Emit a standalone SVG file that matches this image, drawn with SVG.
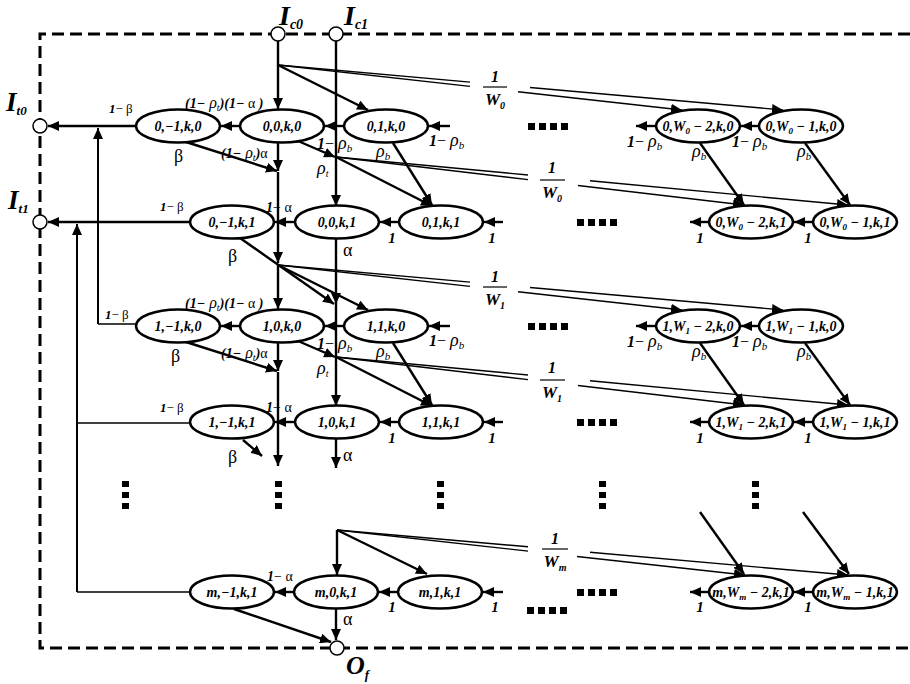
<svg xmlns="http://www.w3.org/2000/svg" width="910" height="684" viewBox="0 0 910 684">
<defs>
<marker id="ah" markerWidth="11" markerHeight="10" refX="11" refY="5" orient="auto" markerUnits="userSpaceOnUse"><path d="M0,0 L11,5 L0,10 Z" fill="#000"/></marker>
<style>
.c{stroke:#000;stroke-width:2.4;fill:none}
.a{marker-end:url(#ah)}
.t{stroke:#000;stroke-width:1.4;fill:none}
.m{stroke:#000;stroke-width:2;fill:none}
.n ellipse{fill:#fff;stroke:#000;stroke-width:2.6}
.n text{font-family:"Liberation Serif",serif;font-style:italic;font-weight:bold;font-size:14px;text-anchor:middle}
.el{font-family:"Liberation Serif",serif;font-size:15px}
.bi{font-style:italic;font-weight:bold}
.it{font-style:italic}
.r{font-style:italic;font-size:18px}
.g{font-size:18px}
.fr{font-family:"Liberation Serif",serif;font-style:italic;font-weight:bold;text-anchor:middle}
.port circle{fill:#fff;stroke:#000;stroke-width:1.5}
.port text{font-family:"Liberation Serif",serif;font-style:italic;font-weight:bold}
.dot{fill:#000}
.border{stroke:#000;stroke-width:3;stroke-dasharray:12,6;fill:none}
</style>
</defs>
<rect width="910" height="684" fill="#fff"/>
<g id="border">
<path class="border" d="M910,34 H40 V648 H910"/>
</g>
<g id="connectors">
<path class="c a" d="M278,41 V109"/>
<path class="c a" d="M278,65 L368,110"/>
<path class="t" d="M278,65 L470,82.1"/>
<path class="t a" d="M530,87.5 L783,110"/>
<path class="t" d="M278,65 L470,86.4"/>
<path class="t a" d="M518,91.7 L682,110"/>
<path class="c a" d="M336,41 V206"/>
<path class="c a" d="M241,126 H221"/>
<path class="c a" d="M344,126 H325"/>
<path class="c a" d="M450,126 H429"/>
<path class="c a" d="M759,126 H741"/>
<path class="c a" d="M656,126 H636"/>
<path class="c a" d="M136,126 H48"/>
<path class="c a" d="M186,142 L277,171"/>
<path class="c a" d="M278,143 V171"/>
<path class="c a" d="M298,141 L335,157"/>
<path class="c a" d="M393,143 L432,205"/>
<path class="c a" d="M700,143 L744,205"/>
<path class="c a" d="M805,143 L850,205"/>
<path class="c a" d="M336,157 L432,206"/>
<path class="t" d="M336,157 L528,175"/>
<path class="t a" d="M590,180.8 L848,205"/>
<path class="t" d="M336,157 L528,179.6"/>
<path class="t a" d="M578,185.5 L744,205"/>
<path class="c a" d="M295,222 H275"/>
<path class="c a" d="M399,222 H380"/>
<path class="c a" d="M503,222 H484"/>
<path class="c a" d="M813,222 H794"/>
<path class="c a" d="M709,222 H690"/>
<path class="c a" d="M190,222 H48"/>
<path class="c a" d="M240,238 L334,304"/>
<path class="c a" d="M278,172 V263"/>
<path class="c a" d="M336,239 V304"/>
<path class="c" d="M336,304 V357"/>
<path class="m a" d="M98,324 V128"/>
<path class="t" d="M136,324 H98"/>
<path class="m a" d="M77,592 V224"/>
<path class="t" d="M190,423 H77"/>
<path class="t" d="M190,592 H77"/>
<path class="c a" d="M278,265 V309"/>
<path class="c a" d="M278,265 L368,310"/>
<path class="t" d="M278,265 L470,282.1"/>
<path class="t a" d="M530,287.5 L783,310"/>
<path class="t" d="M278,265 L470,286.4"/>
<path class="t a" d="M518,291.7 L682,310"/>
<path class="c a" d="M241,326 H221"/>
<path class="c a" d="M344,326 H325"/>
<path class="c a" d="M450,326 H429"/>
<path class="c a" d="M759,326 H741"/>
<path class="c a" d="M656,326 H636"/>
<path class="c a" d="M186,342 L277,371"/>
<path class="c a" d="M278,343 V371"/>
<path class="c a" d="M298,341 L335,357"/>
<path class="c a" d="M393,343 L432,405"/>
<path class="c a" d="M700,343 L744,405"/>
<path class="c a" d="M805,343 L850,405"/>
<path class="c a" d="M336,357 V406"/>
<path class="c a" d="M336,357 L432,406"/>
<path class="t" d="M336,357 L528,375"/>
<path class="t a" d="M590,380.8 L848,405"/>
<path class="t" d="M336,357 L528,379.6"/>
<path class="t a" d="M578,385.5 L744,405"/>
<path class="c a" d="M295,422 H275"/>
<path class="c a" d="M399,422 H380"/>
<path class="c a" d="M503,422 H484"/>
<path class="c a" d="M813,422 H794"/>
<path class="c a" d="M709,422 H690"/>
<path class="c a" d="M243,440 L262,456"/>
<path class="c a" d="M336,439 V468"/>
<path class="c a" d="M278,372 V466"/>
<path class="c a" d="M337,530 V575"/>
<path class="c a" d="M337,530 L427,574"/>
<path class="t" d="M337,530 L528,546.8"/>
<path class="t a" d="M590,552.3 L848,575"/>
<path class="t" d="M337,530 L528,551.1"/>
<path class="t a" d="M577,556.5 L745,575"/>
<path class="c a" d="M700,512 L744,574"/>
<path class="c a" d="M803,512 L849,574"/>
<path class="c a" d="M294,592 H275"/>
<path class="c a" d="M398,592 H379"/>
<path class="c a" d="M503,592 H483"/>
<path class="c a" d="M813,592 H794"/>
<path class="c a" d="M709,592 H690"/>
<path class="c a" d="M336,609 V640"/>
<path class="c a" d="M234,609 L331,642"/>
</g>
<g id="edge-labels" class="el">
<text x="185" y="108" font-size="14"><tspan class="bi">(1−</tspan><tspan class="it" font-size="16"> ρ</tspan><tspan class="it" font-size="10" dy="3">t</tspan><tspan class="bi" dy="-3">)(1−</tspan><tspan> α</tspan><tspan class="bi"> )</tspan></text>
<text x="109" y="113" font-size="13"><tspan class="bi">1</tspan>− β</text>
<text x="174" y="162" class="g">β</text>
<text x="221" y="158" font-size="14"><tspan class="bi">(1−</tspan><tspan class="it" font-size="16"> ρ</tspan><tspan class="it" font-size="10" dy="3">t</tspan><tspan class="bi" dy="-3">)</tspan>α</text>
<text x="317" y="149" font-size="16"><tspan class="bi">1</tspan>− <tspan class="r">ρ</tspan><tspan class="it" font-size="11" dy="3">b</tspan></text>
<text x="376" y="157"><tspan class="r">ρ</tspan><tspan class="it" font-size="11" dy="3">b</tspan></text>
<text x="317" y="174"><tspan class="r">ρ</tspan><tspan class="it" font-size="10" dy="3">t</tspan></text>
<text x="429" y="146" font-size="16"><tspan class="bi">1</tspan>− <tspan class="r">ρ</tspan><tspan class="it" font-size="11" dy="3">b</tspan></text>
<text x="627" y="147" font-size="16"><tspan class="bi">1</tspan>− <tspan class="r">ρ</tspan><tspan class="it" font-size="11" dy="3">b</tspan></text>
<text x="692" y="157"><tspan class="r">ρ</tspan><tspan class="it" font-size="11" dy="3">b</tspan></text>
<text x="732" y="147" font-size="16"><tspan class="bi">1</tspan>− <tspan class="r">ρ</tspan><tspan class="it" font-size="11" dy="3">b</tspan></text>
<text x="797" y="157"><tspan class="r">ρ</tspan><tspan class="it" font-size="11" dy="3">b</tspan></text>
<text x="160" y="211" font-size="13"><tspan class="bi">1</tspan>− β</text>
<text x="266" y="212" font-size="14"><tspan class="bi">1</tspan>− α</text>
<text x="228" y="262" class="g">β</text>
<text x="343" y="256" class="g">α</text>
<text x="392" y="243" class="bi" text-anchor="middle">1</text>
<text x="492" y="243" class="bi" text-anchor="middle">1</text>
<text x="700" y="243" class="bi" text-anchor="middle">1</text>
<text x="808" y="243" class="bi" text-anchor="middle">1</text>
<text x="185" y="308" font-size="14"><tspan class="bi">(1−</tspan><tspan class="it" font-size="16"> ρ</tspan><tspan class="it" font-size="10" dy="3">t</tspan><tspan class="bi" dy="-3">)(1−</tspan><tspan> α</tspan><tspan class="bi"> )</tspan></text>
<text x="105" y="319" font-size="13"><tspan class="bi">1</tspan>− β</text>
<text x="171" y="362" class="g">β</text>
<text x="221" y="358" font-size="14"><tspan class="bi">(1−</tspan><tspan class="it" font-size="16"> ρ</tspan><tspan class="it" font-size="10" dy="3">t</tspan><tspan class="bi" dy="-3">)</tspan>α</text>
<text x="317" y="349" font-size="16"><tspan class="bi">1</tspan>− <tspan class="r">ρ</tspan><tspan class="it" font-size="11" dy="3">b</tspan></text>
<text x="376" y="357"><tspan class="r">ρ</tspan><tspan class="it" font-size="11" dy="3">b</tspan></text>
<text x="317" y="374"><tspan class="r">ρ</tspan><tspan class="it" font-size="10" dy="3">t</tspan></text>
<text x="429" y="346" font-size="16"><tspan class="bi">1</tspan>− <tspan class="r">ρ</tspan><tspan class="it" font-size="11" dy="3">b</tspan></text>
<text x="627" y="347" font-size="16"><tspan class="bi">1</tspan>− <tspan class="r">ρ</tspan><tspan class="it" font-size="11" dy="3">b</tspan></text>
<text x="692" y="357"><tspan class="r">ρ</tspan><tspan class="it" font-size="11" dy="3">b</tspan></text>
<text x="732" y="347" font-size="16"><tspan class="bi">1</tspan>− <tspan class="r">ρ</tspan><tspan class="it" font-size="11" dy="3">b</tspan></text>
<text x="797" y="357"><tspan class="r">ρ</tspan><tspan class="it" font-size="11" dy="3">b</tspan></text>
<text x="160" y="412" font-size="13"><tspan class="bi">1</tspan>− β</text>
<text x="266" y="412" font-size="14"><tspan class="bi">1</tspan>− α</text>
<text x="228" y="463" class="g">β</text>
<text x="343" y="461" class="g">α</text>
<text x="392" y="443" class="bi" text-anchor="middle">1</text>
<text x="492" y="443" class="bi" text-anchor="middle">1</text>
<text x="700" y="443" class="bi" text-anchor="middle">1</text>
<text x="808" y="443" class="bi" text-anchor="middle">1</text>
<text x="267" y="581" font-size="14"><tspan class="bi">1</tspan>− α</text>
<text x="343" y="625" class="g">α</text>
<text x="392" y="612" class="bi" text-anchor="middle">1</text>
<text x="495" y="612" class="bi" text-anchor="middle">1</text>
<text x="700" y="612" class="bi" text-anchor="middle">1</text>
<text x="808" y="612" class="bi" text-anchor="middle">1</text>
<g id="frac-A">
<text class="fr" x="495" y="82" font-size="16">1</text>
<path d="M483,87 H507" stroke="#000" stroke-width="1.2"/>
<text class="fr" x="495" y="105" font-size="17">W<tspan font-size="10" dy="4">0</tspan></text>
</g>
<g id="frac-B">
<text class="fr" x="552" y="173" font-size="16">1</text>
<path d="M540,180 H565" stroke="#000" stroke-width="1.2"/>
<text class="fr" x="552" y="198" font-size="17">W<tspan font-size="10" dy="4">0</tspan></text>
</g>
<g id="frac-C">
<text class="fr" x="495" y="282" font-size="16">1</text>
<path d="M483,287 H507" stroke="#000" stroke-width="1.2"/>
<text class="fr" x="495" y="305" font-size="17">W<tspan font-size="10" dy="4">1</tspan></text>
</g>
<g id="frac-D">
<text class="fr" x="552" y="373" font-size="16">1</text>
<path d="M540,380 H565" stroke="#000" stroke-width="1.2"/>
<text class="fr" x="552" y="398" font-size="17">W<tspan font-size="10" dy="4">1</tspan></text>
</g>
<g id="frac-M">
<text class="fr" x="555" y="544" font-size="16">1</text>
<path d="M542,549 H568" stroke="#000" stroke-width="1.2"/>
<text class="fr" x="555" y="567" font-size="17">W<tspan font-size="10" dy="4">m</tspan></text>
</g>
</g>
<g id="ellipsis" class="dot">
<rect x="528" y="123" width="7" height="7"/><rect x="539" y="123" width="7" height="7"/><rect x="550" y="123" width="7" height="7"/><rect x="561" y="123" width="7" height="7"/>
<rect x="577" y="219" width="7" height="7"/><rect x="588" y="219" width="7" height="7"/><rect x="599" y="219" width="7" height="7"/><rect x="610" y="219" width="7" height="7"/>
<rect x="528" y="323" width="7" height="7"/><rect x="539" y="323" width="7" height="7"/><rect x="550" y="323" width="7" height="7"/><rect x="561" y="323" width="7" height="7"/>
<rect x="577" y="419" width="7" height="7"/><rect x="588" y="419" width="7" height="7"/><rect x="599" y="419" width="7" height="7"/><rect x="610" y="419" width="7" height="7"/>
<rect x="577" y="589" width="7" height="7"/><rect x="588" y="589" width="7" height="7"/><rect x="599" y="589" width="7" height="7"/><rect x="610" y="589" width="7" height="7"/>
<rect x="527" y="607" width="7" height="7"/><rect x="538" y="607" width="7" height="7"/><rect x="549" y="607" width="7" height="7"/><rect x="560" y="607" width="7" height="7"/>
<rect x="122" y="481" width="7" height="6"/><rect x="122" y="492" width="7" height="6"/><rect x="122" y="503" width="7" height="6"/>
<rect x="275" y="481" width="7" height="6"/><rect x="275" y="492" width="7" height="6"/><rect x="275" y="503" width="7" height="6"/>
<rect x="437" y="481" width="7" height="6"/><rect x="437" y="492" width="7" height="6"/><rect x="437" y="503" width="7" height="6"/>
<rect x="599" y="481" width="7" height="6"/><rect x="599" y="492" width="7" height="6"/><rect x="599" y="503" width="7" height="6"/>
<rect x="752" y="481" width="7" height="6"/><rect x="752" y="492" width="7" height="6"/><rect x="752" y="503" width="7" height="6"/>
</g>
<g id="n0m1k0" class="n"><ellipse cx="178" cy="126" rx="42" ry="16.5"/><text x="178" y="131">0,−1,k,0</text></g>
<g id="n00k0" class="n"><ellipse cx="282" cy="126" rx="42" ry="16.5"/><text x="282" y="131">0,0,k,0</text></g>
<g id="n01k0" class="n"><ellipse cx="386" cy="126" rx="42" ry="16.5"/><text x="386" y="131">0,1,k,0</text></g>
<g id="n0W2k0" class="n"><ellipse cx="698" cy="126" rx="42" ry="16.5"/><text x="698" y="131">0,W<tspan font-size="9" dy="3">0</tspan><tspan dy="-3"> − 2,k,0</tspan></text></g>
<g id="n0W1k0" class="n"><ellipse cx="801" cy="126" rx="42" ry="16.5"/><text x="801" y="131">0,W<tspan font-size="9" dy="3">0</tspan><tspan dy="-3"> − 1,k,0</tspan></text></g>
<g id="n0m1k1" class="n"><ellipse cx="232" cy="222" rx="42" ry="16.5"/><text x="232" y="227">0,−1,k,1</text></g>
<g id="n00k1" class="n"><ellipse cx="337" cy="222" rx="42" ry="16.5"/><text x="337" y="227">0,0,k,1</text></g>
<g id="n01k1" class="n"><ellipse cx="441" cy="222" rx="42" ry="16.5"/><text x="441" y="227">0,1,k,1</text></g>
<g id="n0W2k1" class="n"><ellipse cx="751" cy="222" rx="42" ry="16.5"/><text x="751" y="227">0,W<tspan font-size="9" dy="3">0</tspan><tspan dy="-3"> − 2,k,1</tspan></text></g>
<g id="n0W1k1" class="n"><ellipse cx="855" cy="222" rx="42" ry="16.5"/><text x="855" y="227">0,W<tspan font-size="9" dy="3">0</tspan><tspan dy="-3"> − 1,k,1</tspan></text></g>
<g id="n1m1k0" class="n"><ellipse cx="178" cy="326" rx="42" ry="16.5"/><text x="178" y="331">1,−1,k,0</text></g>
<g id="n10k0" class="n"><ellipse cx="282" cy="326" rx="42" ry="16.5"/><text x="282" y="331">1,0,k,0</text></g>
<g id="n11k0" class="n"><ellipse cx="386" cy="326" rx="42" ry="16.5"/><text x="386" y="331">1,1,k,0</text></g>
<g id="n1W2k0" class="n"><ellipse cx="698" cy="326" rx="42" ry="16.5"/><text x="698" y="331">1,W<tspan font-size="9" dy="3">1</tspan><tspan dy="-3"> − 2,k,0</tspan></text></g>
<g id="n1W1k0" class="n"><ellipse cx="801" cy="326" rx="42" ry="16.5"/><text x="801" y="331">1,W<tspan font-size="9" dy="3">1</tspan><tspan dy="-3"> − 1,k,0</tspan></text></g>
<g id="n1m1k1" class="n"><ellipse cx="232" cy="422" rx="42" ry="16.5"/><text x="232" y="427">1,−1,k,1</text></g>
<g id="n10k1" class="n"><ellipse cx="337" cy="422" rx="42" ry="16.5"/><text x="337" y="427">1,0,k,1</text></g>
<g id="n11k1" class="n"><ellipse cx="441" cy="422" rx="42" ry="16.5"/><text x="441" y="427">1,1,k,1</text></g>
<g id="n1W2k1" class="n"><ellipse cx="751" cy="422" rx="42" ry="16.5"/><text x="751" y="427">1,W<tspan font-size="9" dy="3">1</tspan><tspan dy="-3"> − 2,k,1</tspan></text></g>
<g id="n1W1k1" class="n"><ellipse cx="855" cy="422" rx="42" ry="16.5"/><text x="855" y="427">1,W<tspan font-size="9" dy="3">1</tspan><tspan dy="-3"> − 1,k,1</tspan></text></g>
<g id="nmm1k1" class="n"><ellipse cx="232" cy="592" rx="42" ry="16.5"/><text x="232" y="597">m,−1,k,1</text></g>
<g id="nm0k1" class="n"><ellipse cx="336" cy="592" rx="42" ry="16.5"/><text x="336" y="597">m,0,k,1</text></g>
<g id="nm1k1" class="n"><ellipse cx="440" cy="592" rx="42" ry="16.5"/><text x="440" y="597">m,1,k,1</text></g>
<g id="nmW2k1" class="n"><ellipse cx="751" cy="592" rx="42" ry="16.5"/><text x="751" y="597">m,W<tspan font-size="9" dy="3">m</tspan><tspan dy="-3"> − 2,k,1</tspan></text></g>
<g id="nmW1k1" class="n"><ellipse cx="855" cy="592" rx="42" ry="16.5"/><text x="855" y="597">m,W<tspan font-size="9" dy="3">m</tspan><tspan dy="-3"> − 1,k,1</tspan></text></g>
<g id="Ic0" class="port"><circle cx="278" cy="34" r="7"/><text x="279" y="25"><tspan font-size="28">I</tspan><tspan font-size="14" dy="4">c0</tspan></text></g>
<g id="Ic1" class="port"><circle cx="336" cy="34" r="7"/><text x="344" y="25"><tspan font-size="28">I</tspan><tspan font-size="14" dy="4">c1</tspan></text></g>
<g id="It0" class="port"><circle cx="40" cy="126" r="7"/><text x="6" y="111"><tspan font-size="27">I</tspan><tspan font-size="13" dy="4">t0</tspan></text></g>
<g id="It1" class="port"><circle cx="40" cy="222" r="7"/><text x="8" y="209"><tspan font-size="27">I</tspan><tspan font-size="13" dy="4">t1</tspan></text></g>
<g id="Of" class="port"><circle cx="337" cy="648" r="7"/><text x="346" y="674"><tspan font-size="26">O</tspan><tspan font-size="13" dy="5">f</tspan></text></g>
</svg>
